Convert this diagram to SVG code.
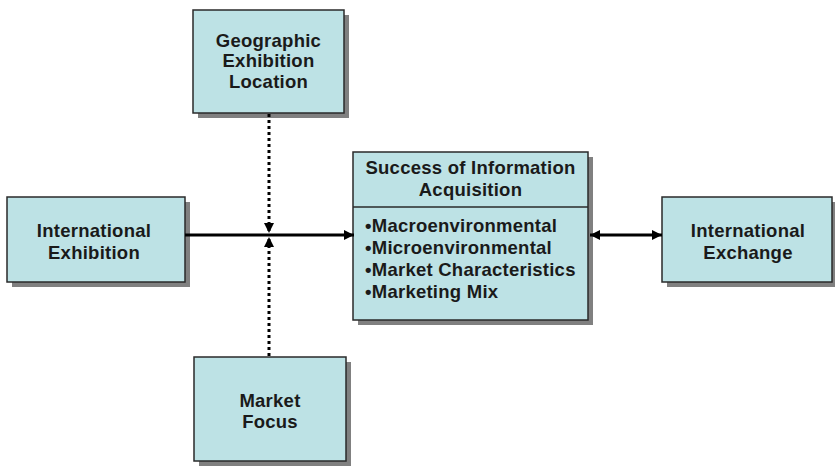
<svg xmlns="http://www.w3.org/2000/svg" width="836" height="466" viewBox="0 0 836 466">
<style>
.box{fill:#bde2e5;stroke:#2a2a2a;stroke-width:1.5}
.shadow{fill:#808080}
.t{font-family:"Liberation Sans",Arial,sans-serif;font-weight:bold;font-size:18.5px;letter-spacing:0.25px;fill:#1a1a1a;text-anchor:middle}
.l{text-anchor:start}
.solid{stroke:#000;stroke-width:3;fill:none}
.dot{stroke:#000;stroke-width:3;fill:none;stroke-dasharray:3 3}
</style>
<defs>
<marker id="ah" viewBox="0 0 10 10" refX="10" refY="5" markerWidth="10" markerHeight="10" markerUnits="userSpaceOnUse" orient="auto-start-reverse">
<path d="M0,0 L10,5 L0,10 z" fill="#000"/>
</marker>
</defs>
<rect width="836" height="466" fill="#fff"/>
<g id="geographic">
<rect class="shadow" x="198" y="15" width="151" height="103"/>
<rect class="box" x="193" y="10" width="151" height="103"/>
<text class="t" x="268.5" y="47">Geographic</text>
<text class="t" x="268.5" y="67">Exhibition</text>
<text class="t" x="268.5" y="88">Location</text>
</g>
<g id="intl-exhibition">
<rect class="shadow" x="12" y="202" width="178" height="85"/>
<rect class="box" x="7" y="197" width="178" height="85"/>
<text class="t" x="94" y="237">International</text>
<text class="t" x="94" y="259">Exhibition</text>
</g>
<g id="success">
<rect class="shadow" x="358" y="157" width="235" height="168"/>
<rect class="box" x="353" y="152" width="235" height="168"/>
<line x1="353" y1="207" x2="588" y2="207" stroke="#2a2a2a" stroke-width="1.5"/>
<text class="t" x="470.5" y="174">Success of Information</text>
<text class="t" x="470.5" y="196">Acquisition</text>
<text class="t l" x="365" y="232">•Macroenvironmental</text>
<text class="t l" x="365" y="254">•Microenvironmental</text>
<text class="t l" x="365" y="276">•Market Characteristics</text>
<text class="t l" x="365" y="298">•Marketing Mix</text>
</g>
<g id="intl-exchange">
<rect class="shadow" x="667" y="202" width="168" height="85"/>
<rect class="box" x="662" y="197" width="170" height="85"/>
<text class="t" x="748" y="237">International</text>
<text class="t" x="748" y="259">Exchange</text>
</g>
<g id="market-focus">
<rect class="shadow" x="199" y="362" width="152" height="104"/>
<rect class="box" x="194" y="357" width="152" height="104"/>
<text class="t" x="270" y="407">Market</text>
<text class="t" x="270" y="428">Focus</text>
</g>
<g id="connectors">
<line class="solid" x1="185" y1="235" x2="354" y2="235" marker-end="url(#ah)"/>
<line class="solid" x1="590" y1="235" x2="662" y2="235" marker-start="url(#ah)" marker-end="url(#ah)"/>
<line class="dot" x1="269" y1="114" x2="269" y2="233" marker-end="url(#ah)"/>
<line class="dot" x1="269" y1="356" x2="269" y2="237" marker-end="url(#ah)"/>
</g>
</svg>
